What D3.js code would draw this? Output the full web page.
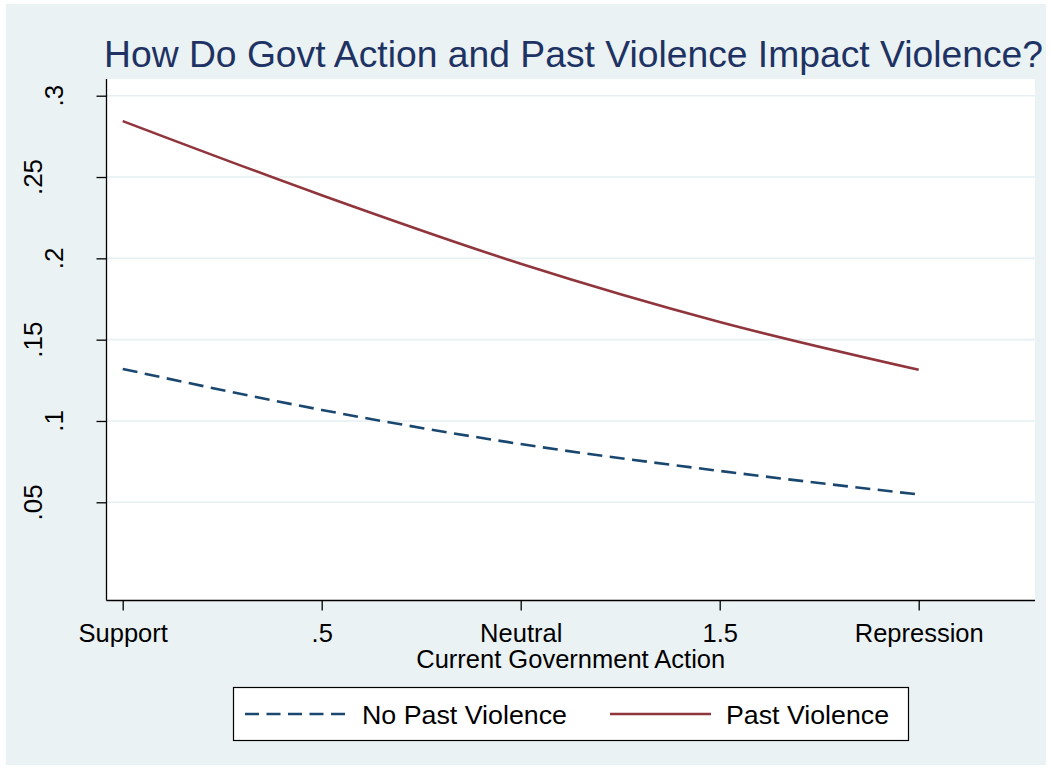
<!DOCTYPE html>
<html>
<head>
<meta charset="utf-8">
<script src="https://cdn.jsdelivr.net/npm/d3@7"></script>
<style>
  html, body { margin: 0; padding: 0; background: #ffffff; }
  svg text { font-family: Arial, "Liberation Sans", Helvetica, sans-serif; }
</style>
</head>
<body>
<svg id="chart" width="1052" height="769"></svg>
<script>
// Predicted probability of violence by current government action
const actionLevels = [0, 0.5, 1, 1.5, 2];
const xTickLabels = ["Support", ".5", "Neutral", "1.5", "Repression"];
const yTickValues = [0.05, 0.1, 0.15, 0.2, 0.25, 0.3];
const yTickLabels = [".05", ".1", ".15", ".2", ".25", ".3"];
const noPastViolence = [0.132, 0.1068, 0.0858, 0.0693, 0.0548];
const pastViolence = [0.2844, 0.2388, 0.1967, 0.1609, 0.1315];
const seriesNames = ["No Past Violence", "Past Violence"];

const W = 1052, H = 769;
const svg = d3.select("#chart");

// graph region
svg.append("rect").attr("x", 6).attr("y", 4).attr("width", W - 12).attr("height", H - 8)
  .attr("fill", "#eaf2f3");

// plot region
const plot = { left: 106.5, right: 1035, top: 79, bottom: 600.5 };
svg.append("rect").attr("x", plot.left).attr("y", plot.top)
  .attr("width", plot.right - plot.left).attr("height", plot.bottom - plot.top)
  .attr("fill", "#ffffff");

const x = d3.scaleLinear().domain([0, 2]).range([122.7, 918.7]);
const y = d3.scaleLinear().domain([0.05, 0.3]).range([502.3, 95.7]);

// grid lines
svg.append("g").selectAll("line").data(yTickValues).join("line")
  .attr("x1", plot.left).attr("x2", plot.right)
  .attr("y1", d => y(d)).attr("y2", d => y(d))
  .attr("stroke", "#e6eff1").attr("stroke-width", 1.6);

// y axis
const yAxis = d3.axisLeft(y).tickValues(yTickValues).tickSize(10).tickFormat("");
const gy = svg.append("g").attr("transform", `translate(${plot.left},0)`).call(yAxis);
gy.select(".domain").attr("d", `M0,${plot.top}V${plot.bottom}`).attr("stroke", "#000").attr("stroke-width", 1.3);
gy.selectAll(".tick line").attr("stroke", "#000").attr("stroke-width", 1.3);

// y tick labels, rotated, alternating offset
svg.append("g").selectAll("text").data(yTickValues).join("text")
  .attr("transform", (d, i) => {
    const bx = (yTickValues.length - 1 - i) % 2 === 0 ? 63 : 42;
    return `translate(${bx},${y(d)}) rotate(-90)`;
  })
  .attr("text-anchor", "middle")
  .attr("font-size", 26).attr("fill", "#000")
  .text((d, i) => yTickLabels[i]);

// x axis
const xAxis = d3.axisBottom(x).tickValues(actionLevels).tickSize(10)
  .tickFormat((d, i) => xTickLabels[i]);
const gx = svg.append("g").attr("transform", `translate(0,${plot.bottom})`).call(xAxis);
gx.select(".domain").attr("d", `M${plot.left},0H${plot.right}`).attr("stroke", "#000").attr("stroke-width", 1.3);
gx.selectAll(".tick line").attr("stroke", "#000").attr("stroke-width", 1.3);
gx.selectAll(".tick text").attr("y", 0).attr("dy", null)
  .attr("transform", "translate(0,41)")
  .attr("font-size", 25.5).attr("fill", "#000")
  .attr("font-family", "Arial, 'Liberation Sans', sans-serif");

// axis title
svg.append("text").attr("x", (plot.left + plot.right) / 2).attr("y", 667.5)
  .attr("text-anchor", "middle").attr("font-size", 25.5).attr("fill", "#000")
  .text("Current Government Action");

// chart title
svg.append("text").attr("x", 104).attr("y", 67)
  .attr("font-size", 37).attr("fill", "#1e3264")
  .attr("textLength", 939).attr("lengthAdjust", "spacingAndGlyphs")
  .text("How Do Govt Action and Past Violence Impact Violence?");

// lines
const line = d3.line()
  .x((d, i) => x(actionLevels[i]))
  .y(d => y(d))
  .curve(d3.curveMonotoneX);

svg.append("path").datum(noPastViolence).attr("d", line)
  .attr("fill", "none").attr("stroke", "#1a476f").attr("stroke-width", 2.6)
  .attr("stroke-dasharray", "15 7.5");

svg.append("path").datum(pastViolence).attr("d", line)
  .attr("fill", "none").attr("stroke", "#90353b").attr("stroke-width", 2.6);

// legend
const lg = svg.append("g");
lg.append("rect").attr("x", 233.5).attr("y", 687.5).attr("width", 675).attr("height", 53)
  .attr("fill", "#ffffff").attr("stroke", "#000").attr("stroke-width", 1.2);
const legendItems = [
  { name: seriesNames[0], color: "#1a476f", dash: "14 7.5", x1: 245, x2: 347, tx: 362, tw: 205 },
  { name: seriesNames[1], color: "#90353b", dash: null, x1: 610, x2: 711, tx: 726, tw: 163 }
];
legendItems.forEach(it => {
  lg.append("line").attr("x1", it.x1).attr("x2", it.x2).attr("y1", 714).attr("y2", 714)
    .attr("stroke", it.color).attr("stroke-width", 2.6)
    .attr("stroke-dasharray", it.dash);
  lg.append("text").attr("x", it.tx).attr("y", 723.5)
    .attr("font-size", 26).attr("fill", "#000")
    .attr("textLength", it.tw).attr("lengthAdjust", "spacingAndGlyphs")
    .text(it.name);
});
</script>
</body>
</html>
